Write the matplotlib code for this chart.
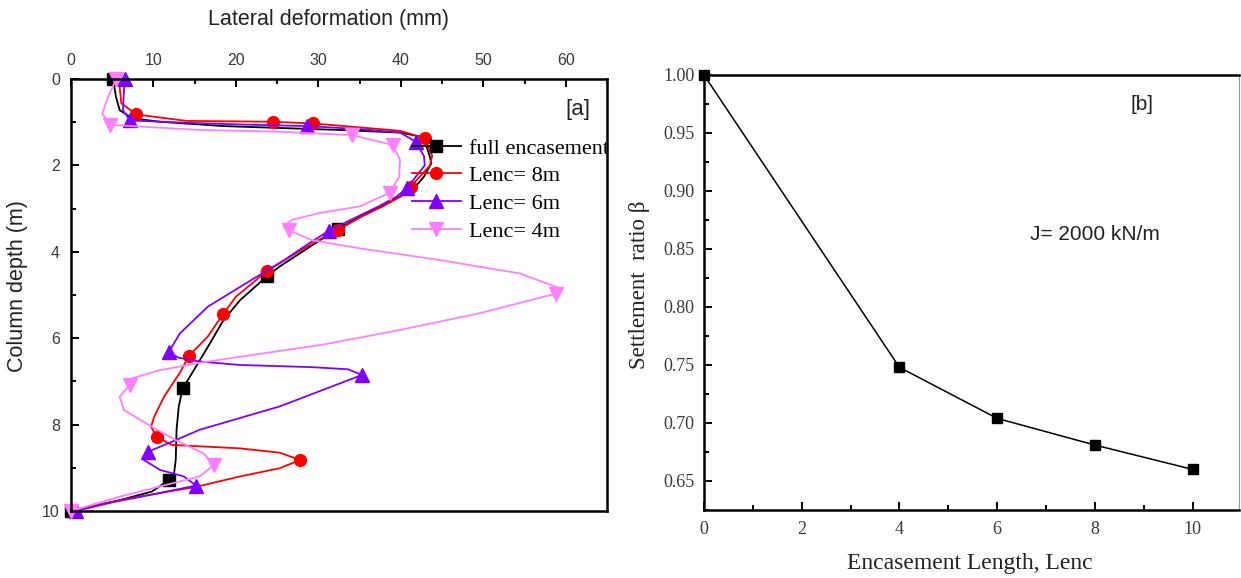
import matplotlib
matplotlib.use("Agg")
import matplotlib.pyplot as plt
from matplotlib.ticker import MultipleLocator, FormatStrFormatter

# ---------------- panel [a]: lateral deformation profiles ----------------
full_depth = [0.0, 0.41, 0.72, 0.91, 0.99, 1.09, 1.18, 1.24, 1.33, 1.49, 1.79, 1.95,
              2.26, 2.53, 2.72, 2.95, 3.18, 3.48, 3.73, 4.03, 4.34, 4.56, 5.12, 5.58,
              6.20, 6.58, 6.96, 7.15, 7.58, 8.12, 8.82, 9.13, 9.28, 9.55, 9.75, 10.0]
full_defo = [5.1, 5.45, 5.9, 7.4, 10.8, 18.5, 32.6, 39.9, 42.3, 43.0, 43.5, 43.7,
             42.8, 41.6, 39.9, 37.5, 35.0, 32.4, 30.2, 27.8, 25.3, 23.8, 20.5, 18.5,
             16.6, 15.4, 14.2, 13.55, 13.07, 12.8, 12.7, 12.5, 11.9, 9.8, 5.9, 0.0]

l8_depth = [0.0, 0.56, 0.82, 0.97, 0.99, 1.03, 1.12, 1.20, 1.37, 1.78, 2.01, 2.49,
            2.72, 2.95, 3.18, 3.49, 3.73, 4.03, 4.44, 5.04, 5.44, 5.96, 6.41, 6.80,
            7.35, 7.81, 8.05, 8.28, 8.47, 8.55, 8.65, 8.82, 9.01, 9.20, 9.44, 9.59,
            9.75, 10.0]
l8_defo = [5.8, 6.1, 7.9, 14.0, 24.5, 29.4, 35.0, 39.9, 42.9, 43.8, 43.5, 41.2,
           40.0, 37.8, 35.3, 32.4, 30.0, 27.3, 23.8, 20.0, 18.45, 16.6, 14.3, 13.2,
           11.3, 10.1, 9.7, 10.4, 12.2, 20.5, 25.3, 27.8, 25.3, 20.5, 15.2, 10.6,
           5.9, 0.0]

l6_depth = [0.0, 0.72, 0.96, 1.02, 1.06, 1.09, 1.16, 1.24, 1.45, 1.78, 2.00, 2.53,
            2.72, 2.95, 3.18, 3.51, 3.80, 4.20, 4.65, 5.27, 5.89, 6.31, 6.45, 6.54,
            6.62, 6.67, 6.72, 6.85, 7.58, 8.12, 8.40, 8.63, 8.82, 9.05, 9.20, 9.41,
            9.59, 9.80, 10.0]
l6_defo = [6.5, 6.3, 7.15, 15.0, 22.0, 28.6, 35.0, 39.9, 41.8, 42.8, 42.9, 40.7,
           39.5, 37.3, 34.8, 31.3, 28.9, 25.8, 21.9, 16.6, 13.2, 11.9, 13.0, 15.6,
           20.5, 29.2, 33.6, 35.3, 25.3, 15.6, 12.2, 9.33, 8.85, 10.8, 13.7, 15.15,
           10.6, 5.0, 0.6]

l4_depth = [0.0, 0.41, 0.80, 1.06, 1.18, 1.22, 1.30, 1.41, 1.53, 1.875, 2.26, 2.63,
            2.95, 3.10, 3.26, 3.42, 3.50, 3.73, 3.92, 4.19, 4.50, 4.81, 4.97, 5.42,
            5.81, 6.16, 6.43, 6.57, 6.74, 6.93, 7.08, 7.35, 7.66, 8.05, 8.36, 8.67,
            8.94, 9.20, 9.44, 9.67, 10.0]
l4_defo = [5.5, 4.5, 3.8, 4.7, 15.6, 25.3, 34.1, 36.5, 39.05, 39.9, 39.8, 38.7,
           35.0, 30.2, 26.8, 25.8, 26.4, 29.2, 35.0, 44.7, 54.4, 58.8, 58.8, 49.6,
           39.9, 30.2, 20.5, 15.6, 10.8, 7.4, 7.15, 5.9, 6.4, 9.8, 12.7, 16.1,
           17.3, 15.6, 10.6, 5.9, 0.0]

series_labels = ["full encasement", "Lenc= 8m", "Lenc= 6m", "Lenc= 4m"]

# ---------------- panel [b]: settlement ratio ----------------
enc_length = [0, 4, 6, 8, 10]
settle_ratio = [1.00, 0.748, 0.704, 0.681, 0.660]

# ---------------- styling ----------------
SANS = "Liberation Sans"
SERIF = "Liberation Serif"
TICK_GREY = "#3a3a3a"
TEXT_GREY = "#222222"

W, H = 1241, 578
fig = plt.figure(figsize=(W / 100, H / 100), dpi=100)


def fig_xy(px, py):
    """Pixel position (origin top-left) -> figure fraction."""
    return px / W, 1 - py / H


axA = fig.add_axes([71 / W, (H - 511) / H, 536 / W, 432 / H])
axB = fig.add_axes([704 / W, (H - 510) / H, 535 / W, 435 / H])

styles = [
    dict(color="black", marker="s", ms=8, markevery=[0, 17, 21, 27, 32, 35]),
    dict(color="#ff0000", marker="o", ms=8.5, markevery=[2, 4, 5, 8, 11, 15, 18, 20, 22, 27, 31]),
    dict(color="#8000ff", marker="^", ms=9.5, markevery=[0, 2, 5, 8, 11, 15, 21, 27, 31, 35, 38]),
    dict(color="#ff80ff", marker="v", ms=9.5, markevery=[0, 3, 6, 8, 11, 16, 22, 30, 36, 40]),
]
datasets = [(full_depth, full_defo), (l8_depth, l8_defo),
            (l6_depth, l6_defo), (l4_depth, l4_defo)]

handles = []
for (dep, dfm), st, lab in zip(datasets, styles, series_labels):
    h, = axA.plot(dfm, dep, lw=1.3, label=lab, clip_on=False,
                  solid_joinstyle="round", **st)
    handles.append(h)

axA.set_xlim(0, 65)
axA.set_ylim(10, 0)
axA.xaxis.set_ticks_position("top")
axA.xaxis.set_label_position("top")
axA.xaxis.set_major_locator(MultipleLocator(10))
axA.xaxis.set_minor_locator(MultipleLocator(5))
axA.yaxis.set_major_locator(MultipleLocator(2))
axA.yaxis.set_minor_locator(MultipleLocator(1))
axA.tick_params(which="both", direction="in", width=1.4, colors="black",
                labelcolor=TICK_GREY, labelsize=11.5)
axA.tick_params(which="major", length=6)
axA.tick_params(which="minor", length=3.5)
axA.tick_params(axis="x", pad=8)
axA.tick_params(axis="y", pad=8)
for lbl in axA.get_xticklabels() + axA.get_yticklabels():
    lbl.set_fontfamily(SANS)
for sp in axA.spines.values():
    sp.set_linewidth(1.8)

fig.text(*fig_xy(328, 20), "Lateral deformation (mm)", fontsize=15.5,
         family=SANS, color=TEXT_GREY, ha="center", va="center")
fig.text(*fig_xy(18, 286), "Column depth (m)", fontsize=15.5, family=SANS,
         color=TEXT_GREY, ha="center", va="center", rotation=90)
fig.text(*fig_xy(578, 110), "[a]", fontsize=16, family=SANS,
         color=TEXT_GREY, ha="center", va="center")

leg = axA.legend(handles=handles, loc="upper left",
                 bbox_to_anchor=fig_xy(412, 138),
                 bbox_transform=fig.transFigure, frameon=False,
                 prop={"family": SERIF, "size": 16},
                 handlelength=2.2, handletextpad=0.35, labelspacing=0.32,
                 borderpad=0, borderaxespad=0)
leg.set_zorder(10)

# ---------------- panel [b] ----------------
axB.plot(enc_length, settle_ratio, color="black", lw=1.1, marker="s", ms=7.5,
         clip_on=False, zorder=5)
axB.set_xlim(0, 10.95)
axB.set_ylim(0.625, 1.0)
axB.xaxis.set_major_locator(MultipleLocator(2))
axB.xaxis.set_minor_locator(MultipleLocator(1))
axB.yaxis.set_major_locator(MultipleLocator(0.05))
axB.yaxis.set_minor_locator(MultipleLocator(0.025))
axB.yaxis.set_major_formatter(FormatStrFormatter("%.2f"))
axB.tick_params(which="both", direction="in", width=1.4, colors="black",
                labelcolor=TICK_GREY, labelsize=13)
axB.tick_params(which="major", length=6)
axB.tick_params(which="minor", length=3.5)
axB.tick_params(axis="x", pad=8)
axB.tick_params(axis="y", pad=7)
for lbl in axB.get_xticklabels() + axB.get_yticklabels():
    lbl.set_fontfamily(SERIF)
for sp in axB.spines.values():
    sp.set_linewidth(1.8)
axB.spines["right"].set_linewidth(0.8)
axB.spines["right"].set_color("#999999")

fig.text(*fig_xy(970, 563), "Encasement Length, Lenc", fontsize=17,
         family=SERIF, color=TEXT_GREY, ha="center", va="center")
fig.text(*fig_xy(640, 285), "Settlement  ratio \u03b2", fontsize=16.5,
         family=SERIF, color=TEXT_GREY, ha="center", va="center", rotation=90)
fig.text(*fig_xy(1095, 234), "J= 2000 kN/m", fontsize=15, family=SANS,
         color=TEXT_GREY, ha="center", va="center")
fig.text(*fig_xy(1142, 105), "[b]", fontsize=15, family=SANS,
         color=TEXT_GREY, ha="center", va="center")

fig.savefig("out.png", dpi=100)
